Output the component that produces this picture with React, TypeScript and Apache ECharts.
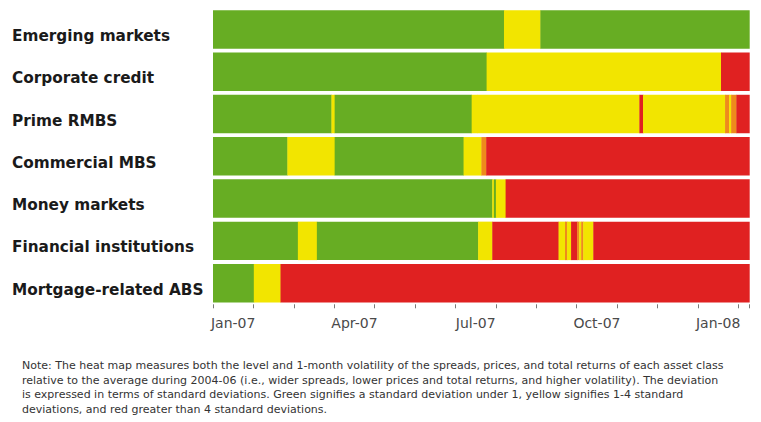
import React, { useEffect, useRef } from "react";
import * as echarts from "echarts";

// Asset classes, top to bottom
const categories = [
  "Emerging markets",
  "Corporate credit",
  "Prime RMBS",
  "Commercial MBS",
  "Money markets",
  "Financial institutions",
  "Mortgage-related ABS",
];

// Segment end points, in months elapsed since 1 Jan 2007 (each segment starts where the previous ends)
const segmentEnds: number[][] = [
  [7.2, 8.1, 13.27],
  [6.77, 12.57, 13.27],
  [2.93, 3.01, 6.4, 6.53, 10.55, 10.64, 12.67, 12.77, 12.82, 12.95, 13.27],
  [1.84, 3.01, 6.2, 6.64, 6.76, 13.27],
  [6.91, 6.95, 7.0, 7.24, 13.27],
  [2.1, 2.57, 6.56, 6.91, 8.55, 8.71, 8.76, 8.86, 9.01, 9.06, 9.11, 9.16, 9.41, 13.27],
  [1.01, 1.67, 13.27],
];

// Deviation level of each segment: G = under 1 sd, Y = 1-4 sd, O = around 4 sd, R = above 4 sd
const segmentLevels: string[][] = [
  ["G", "Y", "G"],
  ["G", "Y", "R"],
  ["G", "Y", "G", "Y", "Y", "R", "Y", "O", "Y", "O", "R"],
  ["G", "Y", "G", "Y", "O", "R"],
  ["G", "Y", "G", "Y", "R"],
  ["G", "Y", "G", "Y", "R", "Y", "O", "Y", "R", "O", "Y", "O", "Y", "R"],
  ["G", "Y", "R"],
];

// Axis tick labels and their positions (months since 1 Jan 2007, centred in the month)
const tickLabels = ["Jan-07", "Apr-07", "Jul-07", "Oct-07", "Jan-08"];
const tickPositions = [0.5, 3.5, 6.5, 9.5, 12.5];
const axisMaxMonths = 13.27;

const noteLines = [
  "Note: The heat map measures both the level and 1-month volatility of the spreads, prices, and total returns of each asset class",
  "relative to the average during 2004-06 (i.e., wider spreads, lower prices and total returns, and higher volatility). The deviation",
  "is expressed in terms of standard deviations. Green signifies a standard deviation under 1, yellow signifies 1-4 standard",
  "deviations, and red greater than 4 standard deviations.",
];

const levelColors: Record<string, string> = {
  G: "#67ad23",
  Y: "#f2e500",
  O: "#ee8a1c",
  R: "#e02121",
};

export default function App() {
  const ref = useRef<HTMLDivElement>(null);

  useEffect(() => {
    if (!ref.current) return;
    const chart = echarts.init(ref.current, undefined, { renderer: "svg" });

    const data: any[] = [];
    segmentEnds.forEach((ends, row) => {
      let start = 0;
      ends.forEach((end, i) => {
        data.push({
          value: [row, start, end],
          itemStyle: { color: levelColors[segmentLevels[row][i]] },
        });
        start = end;
      });
    });

    const labelMap: Record<string, string> = {};
    tickPositions.forEach((p, i) => (labelMap[p.toFixed(1)] = tickLabels[i]));

    chart.setOption({
      animation: false,
      backgroundColor: "#ffffff",
      grid: { left: 213, right: 11.7, top: 8.3, height: 296, containLabel: false },
      xAxis: [
        {
          type: "value",
          position: "bottom",
          min: 0,
          max: axisMaxMonths,
          interval: 1,
          axisLine: { show: false },
          axisTick: { show: true, length: 4, lineStyle: { color: "#7a7a7a", width: 1 } },
          axisLabel: { show: false },
          splitLine: { show: false },
        },
        {
          type: "value",
          position: "bottom",
          min: 0,
          max: axisMaxMonths,
          interval: 0.5,
          axisLine: { show: false },
          axisTick: { show: false },
          splitLine: { show: false },
          axisLabel: {
            show: true,
            margin: 12,
            color: "#4a4a4a",
            fontSize: 14,
            fontFamily: "DejaVu Sans",
            formatter: (v: number) => labelMap[v.toFixed(1)] || "",
          },
        },
      ],
      yAxis: {
        type: "category",
        data: categories,
        inverse: true,
        axisLine: { show: false },
        axisTick: { show: false },
        splitLine: { show: false },
        axisLabel: {
          align: "left",
          verticalAlign: "top",
          lineHeight: 13,
          margin: 201,
          color: "#1a1a1a",
          fontWeight: "bold",
          fontSize: 15.3,
          fontFamily: "DejaVu Sans",
        },
      },
      series: [
        {
          type: "custom",
          xAxisIndex: 0,
          encode: { x: [1, 2], y: 0 },
          renderItem: (params: any, api: any) => {
            const row = api.value(0);
            const s = api.value(1);
            const e = api.value(2);
            const p0 = api.coord([s, row]);
            const p1 = api.coord([e, row]);
            const band = api.size([0, 1])[1];
            const h = band - 3.8;
            return {
              type: "rect",
              shape: { x: p0[0], y: p0[1] - h / 2, width: p1[0] - p0[0] + 0.4, height: h },
              style: { fill: api.visual("color") },
            };
          },
          data,
        },
      ],
      graphic: noteLines.map((line, i) => ({
        type: "text",
        left: 22,
        top: 360 + i * 14.7,
        style: {
          text: line,
          fill: "#333333",
          fontSize: 11,
          fontFamily: "DejaVu Sans",
        },
      })),
    });

    return () => chart.dispose();
  }, []);

  return (
    <div
      ref={ref}
      style={{ position: "absolute", left: 0, top: 0, width: 761, height: 422 }}
    />
  );
}
